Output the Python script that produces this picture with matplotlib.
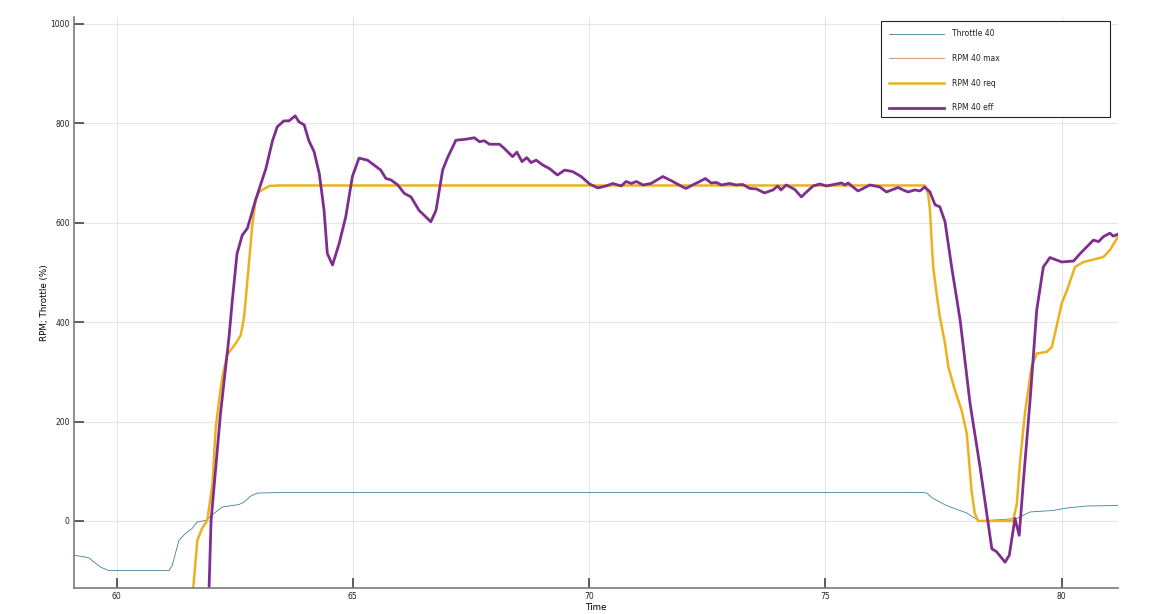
import matplotlib
matplotlib.use("Agg")
import matplotlib.pyplot as plt
import matplotlib.patches as mpatches

# Throttle 40 (time, value)
thr_t = [59.10, 59.41, 59.66, 59.84, 61.11, 61.18, 61.32, 61.46, 61.60, 61.71, 61.89,
         62.06, 62.24, 62.59, 62.70, 62.84, 62.98, 63.44, 77.10, 77.14, 77.28, 77.56,
         77.99, 78.23, 78.48, 79.05, 79.33, 79.82, 80.11, 80.53, 81.19]
thr_v = [-69, -74, -93, -100, -100, -89, -39, -25, -15, -2, 1,
         15, 28, 33, 38, 50, 56, 57, 57, 56, 45, 31,
         16, 1, 1, 5, 18, 21, 26, 30, 31]

# RPM 40 req
req_t = [61.60, 61.71, 61.81, 61.92, 62.03, 62.10, 62.17, 62.24, 62.34, 62.52, 62.63,
         62.70, 62.77, 62.87, 62.94, 63.01, 63.23, 63.44, 77.10, 77.17, 77.21, 77.25,
         77.28, 77.35, 77.42, 77.53, 77.60, 77.74, 77.88, 77.99, 78.02, 78.09, 78.16,
         78.23, 78.97, 79.05, 79.12, 79.22, 79.36, 79.47, 79.68, 79.79, 79.89, 80.00,
         80.11, 80.28, 80.46, 80.88, 81.02, 81.19]
req_v = [-160, -39, -15, 1, 75, 189, 243, 290, 334, 357, 374,
         411, 485, 592, 645, 662, 674, 675, 675, 659, 628, 558,
         511, 458, 411, 357, 310, 263, 223, 176, 142, 62, 15,
         0, 0, 35, 122, 216, 310, 337, 340, 350, 391, 438,
         464, 511, 521, 531, 545, 572]

# RPM 40 max (lies under RPM 40 req)
max_t = req_t
max_v = req_v

# RPM 40 eff
eff_t = [61.95, 62.00, 62.10, 62.20, 62.31, 62.38, 62.45, 62.55, 62.66, 62.77, 62.84,
         62.94, 63.16, 63.30, 63.40, 63.54, 63.65, 63.78, 63.86, 63.97, 64.07, 64.18,
         64.29, 64.39, 64.46, 64.57, 64.71, 64.85, 64.99, 65.13, 65.31, 65.49, 65.59,
         65.70, 65.81, 65.95, 66.09, 66.23, 66.40, 66.65, 66.76, 66.90, 67.00, 67.18,
         67.39, 67.57, 67.68, 67.78, 67.89, 68.10, 68.20, 68.38, 68.47, 68.58, 68.68,
         68.77, 68.88, 69.02, 69.16, 69.33, 69.48, 69.65, 69.83, 70.01, 70.18, 70.36,
         70.50, 70.68, 70.78, 70.89, 71.00, 71.14, 71.31, 71.56, 71.77, 71.98, 72.05,
         72.23, 72.34, 72.46, 72.58, 72.69, 72.80, 72.97, 73.11, 73.25, 73.40, 73.54,
         73.71, 73.89, 73.99, 74.06, 74.17, 74.35, 74.49, 74.60, 74.74, 74.88, 75.02,
         75.23, 75.34, 75.41, 75.48, 75.58, 75.69, 75.80, 75.94, 76.15, 76.29, 76.43,
         76.54, 76.64, 76.75, 76.89, 77.00, 77.10, 77.21, 77.32, 77.42, 77.53, 77.67,
         77.85, 78.06, 78.27, 78.52, 78.62, 78.80, 78.89, 79.01, 79.10, 79.19, 79.33,
         79.47, 79.61, 79.75, 80.00, 80.25, 80.39, 80.67, 80.78, 80.88, 81.02, 81.09,
         81.19]
eff_v = [-160, 0, 109, 216, 310, 370, 444, 538, 575, 589, 612,
         645, 709, 765, 793, 805, 805, 815, 803, 797, 765, 743,
         699, 626, 538, 515, 558, 612, 693, 730, 726, 713, 706,
         689, 686, 676, 659, 652, 625, 602, 625, 706, 730, 766,
         768, 771, 763, 765, 758, 758, 750, 733, 742, 723, 731,
         721, 726, 716, 709, 696, 706, 703, 693, 678, 670, 674,
         679, 674, 683, 679, 683, 676, 679, 693, 683, 672, 669,
         678, 683, 689, 680, 681, 676, 679, 676, 677, 669, 668,
         660, 666, 674, 666, 676, 667, 652, 662, 674, 678, 674,
         678, 680, 676, 680, 672, 664, 669, 676, 672, 662, 667,
         671, 666, 662, 666, 664, 672, 662, 636, 632, 602, 511,
         404, 236, 109, -56, -62, -83, -69, 5, -29, 82, 243,
         424, 511, 530, 521, 523, 538, 565, 562, 572, 579, 573,
         577]

c_thr = "#3f8296"
c_max = "#c08a6a"
c_req = (0.929, 0.694, 0.125)
c_eff = (0.494, 0.184, 0.556)

fig = plt.figure(figsize=(11.5, 6.14), dpi=100)
ax = fig.add_axes([74 / 1150, 1 - 588 / 614, (1118 - 74) / 1150, (588 - 17) / 614])

ax.plot(thr_t, thr_v, color=c_thr, lw=0.6, label="Throttle 40")
ax.plot(max_t, max_v, color=c_max, lw=0.6, label="RPM 40 max")
ax.plot(req_t, req_v, color=c_req, lw=1.8, label="RPM 40 req")
ax.plot(eff_t, eff_v, color=c_eff, lw=2.0, label="RPM 40 eff")

ax.set_xlim(59.1, 81.19)
ax.set_ylim(-135, 1014)
ax.set_xticks([60, 65, 70, 75, 80])
ax.set_yticks([0, 200, 400, 600, 800, 1000])
ax.grid(True, color="#e6e6e6", lw=0.8)
ax.set_axisbelow(True)

for s in ["top", "right"]:
    ax.spines[s].set_visible(False)
for s in ["left", "bottom"]:
    ax.spines[s].set_color("#7a7a7a")
    ax.spines[s].set_linewidth(1.2)
ax.tick_params(direction="in", length=7, width=1.2, color="#444444",
               labelsize=5.5, pad=3, labelcolor="#222222")

ax.set_xlabel("Time", fontsize=6.3, labelpad=1)
ax.set_ylabel("RPM; Throttle (%)", fontsize=6.3, labelpad=1)

# legend frame is wider than its content, so draw it separately
frame = mpatches.Rectangle((0.773, 0.825), 0.219, 0.168, transform=ax.transAxes,
                           facecolor="white", edgecolor="#222222", lw=0.8, zorder=9)
ax.add_patch(frame)
leg = ax.legend(loc="upper left", bbox_to_anchor=(0.773, 0.993), fontsize=5.5,
                frameon=False, handlelength=7.2, handletextpad=1.05,
                labelspacing=2.05, borderpad=1.1, borderaxespad=0)
leg.set_zorder(10)
for t in leg.get_texts():
    t.set_color("#222222")

fig.savefig("out.png", dpi=100)
